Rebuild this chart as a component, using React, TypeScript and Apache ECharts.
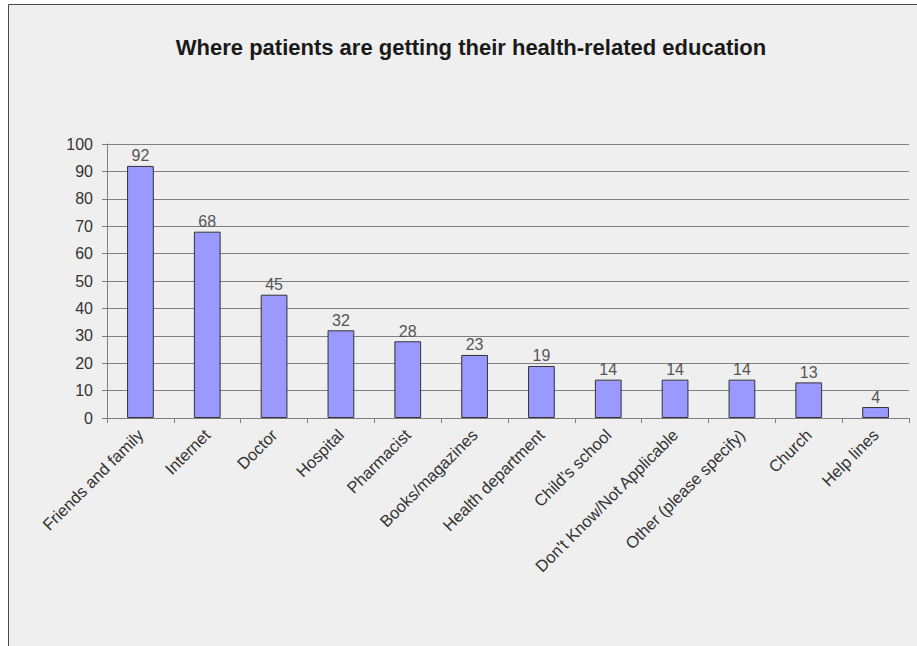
import React, { useEffect, useRef } from "react";
import * as echarts from "echarts";

const titleText = "Where patients are getting their health-related education";
const categories = [
  "Friends and family",
  "Internet",
  "Doctor",
  "Hospital",
  "Pharmacist",
  "Books/magazines",
  "Health department",
  "Child\u2019s school",
  "Don't Know/Not Applicable",
  "Other (please specify)",
  "Church",
  "Help lines",
];
const values = [92, 68, 45, 32, 28, 23, 19, 14, 14, 14, 13, 4];
const yMin = 0;
const yMax = 100;
const yInterval = 10;

const FONT = "'Liberation Sans', Arial, sans-serif";

export default function App() {
  const ref = useRef<HTMLDivElement>(null);
  useEffect(() => {
    if (!ref.current) return;
    const chart = echarts.init(ref.current, undefined, { renderer: "svg" });
    chart.setOption({
      animation: false,
      backgroundColor: "#ffffff",
      graphic: [
        {
          type: "rect",
          left: 8,
          top: 4,
          z: -10,
          shape: { x: 0, y: 0, width: 1000, height: 1000 },
          style: { fill: "#efefef", stroke: "#4a4a4a", lineWidth: 1 },
          silent: true,
        },
      ],
      title: {
        text: titleText,
        left: 466,
        textAlign: "center",
        top: 31,
        textStyle: {
          fontFamily: FONT,
          fontSize: 22,
          fontWeight: "bold",
          color: "#1a1a1a",
        },
      },
      grid: { left: 107, top: 144, right: 8, bottom: 228, containLabel: false },
      xAxis: {
        type: "category",
        data: categories,
        axisLine: { lineStyle: { color: "#808080", width: 1 } },
        axisTick: { show: true, length: 5, alignWithLabel: false, lineStyle: { color: "#808080" } },
        axisLabel: {
          rotate: 45,
          interval: 0,
          margin: 14,
          fontFamily: FONT,
          fontSize: 16.5,
          color: "#333333",
        },
      },
      yAxis: {
        type: "value",
        min: yMin,
        max: yMax,
        interval: yInterval,
        axisLine: { show: true, lineStyle: { color: "#808080", width: 1 } },
        axisTick: { show: true, length: 5, lineStyle: { color: "#808080" } },
        axisLabel: {
          margin: 14,
          fontFamily: FONT,
          fontSize: 16,
          color: "#333333",
        },
        splitLine: { show: true, lineStyle: { color: "#808080", width: 1 } },
      },
      series: [
        {
          type: "bar",
          data: values,
          barWidth: "40%",
          itemStyle: { color: "#9999ff", borderColor: "#333333", borderWidth: 1 },
          label: {
            show: true,
            position: "top",
            distance: 2,
            fontFamily: FONT,
            fontSize: 16,
            color: "#555555",
          },
        },
      ],
    });
    return () => chart.dispose();
  }, []);
  return (
    <div
      ref={ref}
      style={{ position: "fixed", left: 0, top: 0, width: 917, height: 646 }}
    />
  );
}
